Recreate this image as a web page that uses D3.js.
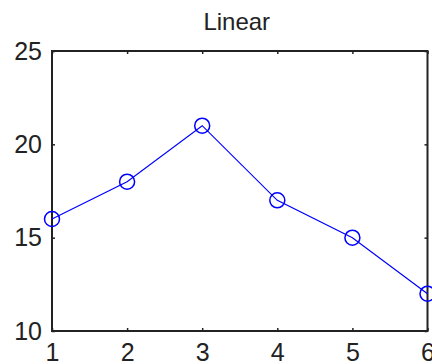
<!DOCTYPE html>
<html>
<head>
<meta charset="utf-8">
<script src="https://cdn.jsdelivr.net/npm/d3@7"></script>
<style>
  html, body { margin: 0; padding: 0; background: #fff; }
  svg { display: block; }
  text { font-family: "Liberation Sans", Arial, sans-serif; fill: #222; }
</style>
</head>
<body>
<script>
const title = "Linear";
const xValues = [1, 2, 3, 4, 5, 6];
const yValues = [16, 18, 21, 17, 15, 12];
const xTicks = [1, 2, 3, 4, 5, 6];
const yTicks = [10, 15, 20, 25];

const W = 432, H = 364;
const margin = { left: 52, right: 4.5, top: 51, bottom: 33 };
const iw = W - margin.left - margin.right;
const ih = H - margin.top - margin.bottom;

const svg = d3.select("body").append("svg").attr("width", W).attr("height", H);
const g = svg.append("g").attr("transform", `translate(${margin.left},${margin.top})`);

const x = d3.scaleLinear().domain([1, 6]).range([0, iw]);
const y = d3.scaleLinear().domain([10, 25]).range([ih, 0]);

// axes (inward ticks)
const styleAxis = sel => {
  sel.select(".domain").remove();
  sel.selectAll(".tick line").attr("stroke", "#222").attr("stroke-width", 1.5);
  sel.selectAll(".tick text").attr("font-size", 25).attr("fill", "#222")
     .attr("font-family", "'Liberation Sans', Arial, sans-serif");
};

g.append("g").attr("transform", `translate(0,${ih})`)
  .call(d3.axisBottom(x).tickValues(xTicks).tickSize(-3).tickPadding(12).tickFormat(d3.format("d")))
  .call(styleAxis);
g.append("g")
  .call(d3.axisTop(x).tickValues(xTicks).tickSize(-3).tickFormat(""))
  .call(styleAxis);
g.append("g")
  .call(d3.axisLeft(y).tickValues(yTicks).tickSize(-3).tickPadding(10).tickFormat(d3.format("d")))
  .call(styleAxis);
g.append("g").attr("transform", `translate(${iw},0)`)
  .call(d3.axisRight(y).tickValues(yTicks).tickSize(-3).tickFormat(""))
  .call(styleAxis);

// box
g.append("rect").attr("x", 0).attr("y", 0).attr("width", iw).attr("height", ih)
  .attr("fill", "none").attr("stroke", "#222").attr("stroke-width", 2);

// line
const data = xValues.map((v, i) => ({ x: v, y: yValues[i] }));
g.append("path").datum(data)
  .attr("fill", "none").attr("stroke", "#0000ff").attr("stroke-width", 1.2)
  .attr("d", d3.line().x(d => x(d.x)).y(d => y(d.y)));

g.selectAll("circle.m").data(data).enter().append("circle")
  .attr("class", "m")
  .attr("cx", d => x(d.x)).attr("cy", d => y(d.y)).attr("r", 7.5)
  .attr("fill", "none").attr("stroke", "#0000ff").attr("stroke-width", 1.5);

// title
svg.append("text").attr("x", margin.left + iw / 2 - 3).attr("y", 30)
  .attr("text-anchor", "middle").attr("font-size", 24).text(title);
</script>
</body>
</html>
